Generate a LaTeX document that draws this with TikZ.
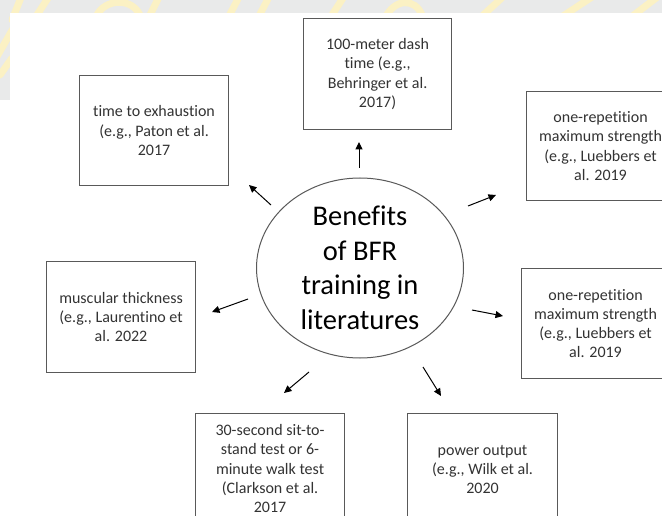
\documentclass[tikz,border=0pt]{standalone}
\usepackage{fontspec}
\setmainfont{Carlito}[Ligatures=NoCommon]
\usetikzlibrary{arrows.meta,shapes.geometric}
\definecolor{bggray}{HTML}{E9EAEA}
\definecolor{wmyellow}{HTML}{FBF1C4}
\definecolor{boxgray}{HTML}{595959}
\definecolor{textgray}{HTML}{333333}
\begin{document}
\begin{tikzpicture}[x=1pt,y=-1pt,
  box/.style={draw=boxgray, line width=1.1pt, inner sep=0pt, anchor=north west,
    align=center, font=\fontsize{16}{19.3}\selectfont, text=textgray},
  arr/.style={-{Triangle[length=7.5pt,width=7pt]}, line width=1pt, black},
  wm/.style={wmyellow, line width=7pt, line cap=round},
]
\useasboundingbox (0,0) rectangle (662,516);
\clip (0,0) rectangle (662,516);
% background (screenshot margins)
\fill[bggray] (0,0) rectangle (662,516);
\begin{scope}
  \clip (0,0) rectangle (662,13) (0,0) rectangle (10,100);
  \draw[wm] (-5,60) -- (18,20);
  \draw[wm] (12,20) -- (22,-5);
  \draw[wm] (35,18) -- (50,-5);
  \draw[wm] (95,20) .. controls (100,0) and (130,-5) .. (140,15);
  \draw[wm] (150,15) -- (160,-5);
  \draw[wm] (228,18) -- (240,-5);
  \draw[wm] (258,18) -- (270,-5);
  \draw[wm] (330,18) -- (345,-5);
  \draw[wm] (385,18) .. controls (395,-2) and (415,-2) .. (422,15);
  \draw[wm] (480,18) -- (505,-5);
  \draw[wm] (560,18) -- (595,-5);
  \draw[wm] (630,18) -- (660,-5);
  \draw[wm] (0,75) -- (12,58);
\end{scope}
\fill[white] (10,13) rectangle (662,516);
\fill[white] (0,100) rectangle (10,516);

% centre
\node[ellipse, draw=boxgray, line width=1pt, minimum width=207pt, minimum height=180pt,
  inner sep=0pt, align=center, font=\fontsize{28.5}{34.5}\selectfont, text=black]
  (c) at (360,268) {Benefits\\of BFR\\training in\\literatures};

% boxes
\node[box, minimum width=148pt, minimum height=111pt] (dash) at (303,18)
  {100-meter dash\\time (e.g.,\\Behringer et al.\\2017)};
\node[box, minimum width=149pt, minimum height=110pt] (exh) at (79,75)
  {time to exhaustion\\(e.g., Paton et al.\\2017};
\node[box, minimum width=148pt, minimum height=109pt] (orma) at (526,91)
  {one-repetition\\maximum strength\\(e.g., Luebbers et\\al. 2019};
\node[box, minimum width=148pt, minimum height=110pt] (ormb) at (521,268)
  {one-repetition\\maximum strength\\(e.g., Luebbers et\\al. 2019};
\node[box, minimum width=149pt, minimum height=111pt] (musc) at (46,261)
  {muscular thickness\\(e.g., Laurentino et\\al. 2022};
\node[box, minimum width=149pt, minimum height=110pt] (sit) at (195,413)
  {30-second sit-to-\\stand test or 6-\\minute walk test\\(Clarkson et al.\\2017};
\node[box, minimum width=150pt, minimum height=112pt] (pow) at (407,413)
  {power output\\(e.g., Wilk et al.\\2020};

% arrow ends
\coordinate (t1) at (359,168); \coordinate (h1) at (359,142);
\coordinate (t2) at (271,205); \coordinate (h2) at (249,185);
\coordinate (t3) at (468,206); \coordinate (h3) at (496,195);
\coordinate (t4) at (472,310); \coordinate (h4) at (503,316);
\coordinate (t5) at (248,299); \coordinate (h5) at (212,312);
\coordinate (t6) at (309,372); \coordinate (h6) at (284,393);
\coordinate (t7) at (423,367); \coordinate (h7) at (441,396);
\draw[arr] (t1) -- (h1);
\draw[arr] (t2) -- (h2);
\draw[arr] (t3) -- (h3);
\draw[arr] (t4) -- (h4);
\draw[arr] (t5) -- (h5);
\draw[arr] (t6) -- (h6);
\draw[arr] (t7) -- (h7);
\end{tikzpicture}
\end{document}
